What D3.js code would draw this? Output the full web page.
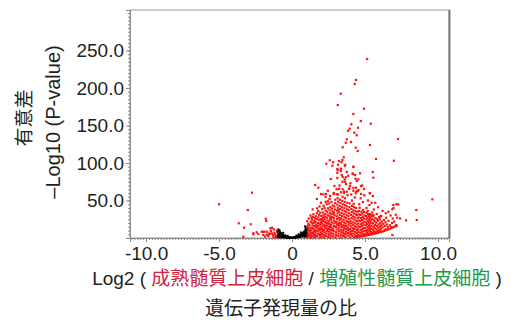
<!DOCTYPE html>
<html><head><meta charset="utf-8">
<script src="https://cdn.jsdelivr.net/npm/d3@7/dist/d3.min.js"></script>
<style>html,body{margin:0;padding:0;background:#fff;}svg{display:block;}</style>
</head><body>
<svg id="chart" width="520" height="328"></svg>
<script>
// ---- data ----
const xTicks = [-10, -5, 0, 5, 10];
const xTickLabels = ["-10.0", "-5.0", "0", "5.0", "10.0"];
const yTicks = [50, 100, 150, 200, 250];
const yTickLabels = ["50.0", "100.0", "150.0", "200.0", "250.0"];

// not significant (black)
const blackPoints = [
[-1.0,7.5],[-0.98,4],[-0.96,1.5],[-0.95,9],[-0.92,6],[-0.9,3],[-0.88,0.8],[-0.85,5.5],[-0.82,7.8],[-0.8,2.2],
[-0.78,4.5],[-0.75,1],[-0.72,6.5],[-0.7,3.4],[-0.68,0.5],[-0.65,5],[-0.62,2.5],[-0.6,4],[-0.58,1.2],[-0.55,3],
[-0.52,0.7],[-0.5,2.2],[-0.47,3.6],[-0.45,1.5],[-0.42,0.6],[-0.4,2.5],[-0.37,1.2],[-0.35,0.4],[-0.32,1.8],[-0.3,0.8],
[-0.27,1.3],[-0.25,0.3],[-0.22,1],[-0.2,0.5],[-0.17,0.8],[-0.15,0.2],[-0.12,0.6],[-0.1,0.3],[-0.07,0.5],[-0.05,0.2],
[-0.02,0.4],[0,0.2],[0.03,0.4],[0.05,0.2],[0.08,0.6],[0.1,0.3],[0.13,0.8],[0.15,0.4],[0.18,1],[0.2,0.5],
[0.23,1.3],[0.25,0.7],[0.28,1.6],[0.3,0.9],[0.33,2],[0.35,1.2],[0.38,2.5],[0.4,0.8],[0.42,3],[0.45,1.5],
[0.47,3.6],[0.5,2.2],[0.52,4.2],[0.55,1.4],[0.57,3.2],[0.6,5],[0.62,2.4],[0.65,4.4],[0.67,6],[0.7,1.8],
[0.72,3.8],[0.74,5.6],[0.76,7.4],[0.78,2.8],[0.8,4.8],[0.82,6.8],[0.84,9],[0.86,1.5],[0.87,3.8],[0.88,6],
[0.9,8.2],[0.91,11],[0.92,14],[0.93,2.5],[0.94,5],[0.95,7.5],[0.96,10],[0.97,12.5],[0.98,3.5],[0.99,6.5],
[0.6,7.5],[0.45,5],[0.3,3.5],[-0.3,3],[-0.6,7],[-0.85,10],[-0.93,11.5],[0.89,15.5]
];

// down-regulated, significant (red, left side)
const redLeft = [
[-2.74,60.4],[-5.0,45],[-3.03,37.3],[-1.8,25.7],[-1.76,22.7],[-3.65,19.6],[-2.83,18.3],[-3.29,13.7],[-1.49,12.9],[-1.37,13.7],
[-2.65,6.3],[-2.31,5.3],[-2.08,8.4],[-1.9,8.4],[-3.34,1.7],[-1.73,4.4],[-1.51,5.3],[-1.97,8],[-2.65,4.9],[-2.42,7.6],
[-1.97,4],[-1.73,8.4],[-1.62,2.7],[-1.39,6.3],[-1.28,1.7],[-1.16,4.9],[-1.1,2.5],[-1.2,7],[-1.05,10],[-1.3,3.8],
[-1.45,9.5],[-1.25,11.5],[-1.6,6],[-1.85,2],[-1.05,1],[-1.15,0.5]
];

// up-regulated, significant (red, right side)
const redRight = [
// x 1.0 - 1.5
[1.02,0.8],[1.05,3.5],[1.08,6.1],[1.03,9.4],[1.1,12.2],[1.06,15.8],[1.12,19],[1.15,1.9],[1.18,4.7],[1.2,8.3],
[1.22,11],[1.25,14.1],[1.19,17.5],[1.28,21.6],[1.3,0.6],[1.33,3],[1.35,6.8],[1.31,10.1],[1.38,13.3],[1.4,16.9],
[1.36,24.5],[1.42,28],[1.45,2.2],[1.47,5.4],[1.5,9],[1.44,12.5],[1.48,19.8],[1.52,23],[1.46,31.5],[1.41,38.2],
[1.04,22.5],[1.14,26],[1.26,30],[1.09,13.6],[1.16,10.2],[1.27,5.6],[1.37,20.4],[1.43,7.3],[1.21,2.6],[1.34,27],
// x 1.5 - 2.0
[1.55,1],[1.58,4],[1.6,7.5],[1.57,11.2],[1.62,14.6],[1.65,18],[1.6,21.5],[1.68,25.3],[1.63,29],[1.7,33],
[1.72,2.6],[1.75,6],[1.78,9.7],[1.74,13],[1.8,16.4],[1.77,20.2],[1.83,24],[1.8,27.5],[1.85,31],[1.79,36],
[1.88,42],[1.9,0.7],[1.92,3.8],[1.95,7.1],[1.91,10.5],[1.97,14],[1.94,17.7],[1.99,21],[1.96,25],[2.0,29.3],
[1.93,33.8],[1.98,47],[1.7,52],[1.58,70.7],[1.8,67],[1.99,58.7],[1.66,9.3],[1.86,12.5],[1.53,16],[1.71,39.5],
[1.64,2.3],[1.84,5],[1.56,26.7],[1.89,19.2],[1.69,16.1],
// x 2.0 - 2.5
[2.03,2],[2.05,5.3],[2.08,8.6],[2.04,12],[2.1,15.5],[2.07,19],[2.12,22.6],[2.09,26],[2.14,30],[2.11,34],
[2.06,38.5],[2.16,43],[2.18,0.9],[2.2,4.2],[2.22,7.6],[2.19,11],[2.25,14.3],[2.21,17.9],[2.27,21.3],[2.24,24.8],
[2.29,28.4],[2.26,32],[2.3,36.5],[2.23,40],[2.32,2.8],[2.35,6.2],[2.38,9.5],[2.33,13],[2.4,16.6],[2.36,20],
[2.42,23.5],[2.39,27.2],[2.44,31],[2.41,35],[2.46,39.6],[2.37,45],[2.48,1.4],[2.5,5],[2.45,49],[2.3,55],
[2.15,58],[2.33,58.7],[2.35,99],[2.13,10.2],[2.28,16.4],[2.43,12.1],[2.02,24.1],[2.17,27.3],[2.47,19.5],[2.31,48.2],
// x 2.5 - 3.0
[2.52,8.4],[2.55,11.8],[2.51,15.2],[2.57,18.7],[2.54,22.1],[2.59,25.6],[2.56,29.2],[2.6,33],[2.58,37],[2.62,41],
[2.55,46],[2.64,0.6],[2.66,3.5],[2.68,7],[2.65,10.4],[2.7,13.9],[2.67,17.3],[2.72,20.8],[2.69,24.3],[2.74,27.9],
[2.71,31.6],[2.76,35.4],[2.73,39.3],[2.78,43.4],[2.7,48],[2.8,2.1],[2.82,5.6],[2.85,9],[2.81,12.4],[2.87,16],
[2.84,19.4],[2.89,23],[2.86,26.5],[2.91,30.2],[2.88,34],[2.93,38],[2.9,42],[2.95,46.3],[2.97,1],[2.99,4.4],
[2.96,51],[2.6,56],[2.85,60],[2.45,63],[2.65,78.7],[2.9,69.3],[2.86,58.7],[2.58,103.6],[2.81,101],[2.76,96.4],
[2.53,4.5],[2.61,14.8],[2.77,10.5],[2.94,15.2],[2.63,27.5],[2.83,32.2],[2.98,20.5],[2.57,52],
// x 3.0 - 3.5
[3.02,7.8],[3.05,11.3],[3.01,14.7],[3.07,18.2],[3.04,21.7],[3.09,25.3],[3.06,29],[3.11,32.7],[3.08,36.5],[3.13,40.4],
[3.1,44.4],[3.15,48.5],[3.12,53],[3.17,2.5],[3.19,6],[3.21,9.5],[3.18,13],[3.23,16.5],[3.2,20],[3.25,23.5],
[3.22,27.1],[3.27,30.8],[3.24,34.6],[3.29,38.5],[3.26,42.5],[3.31,46.6],[3.28,51],[3.33,0.8],[3.35,4.3],[3.37,7.7],
[3.34,11.2],[3.39,14.8],[3.36,18.3],[3.41,21.9],[3.38,25.6],[3.43,29.3],[3.4,33.1],[3.45,37],[3.42,41],[3.47,45],
[3.44,49.5],[3.49,2.8],[3.5,6.3],[3.46,55],[3.15,58],[3.35,61],[3.05,65],[3.25,70],[3.45,75],[3.1,80],
[3.4,84],[3.22,65.3],[3.47,65],[3.06,58.3],[3.36,92.4],[3.13,90.7],[3.34,89.3],[3.1,87],[3.47,81.3],[3.22,102.7],
[3.45,104],[3.38,101],[3.15,97.7],[3.1,92],[3.34,92],[3.47,121],[3.34,192.4],[3.13,177.3],[3.03,3.6],[3.14,17.4],
[3.3,19.6],[3.44,15.6],[3.16,37.2],[3.32,26.3],[3.48,10.2],
// x 3.5 - 4.0
[3.52,9.8],[3.55,13.4],[3.51,17],[3.57,20.6],[3.54,24.3],[3.59,28],[3.56,31.8],[3.61,35.7],[3.58,39.7],[3.63,43.8],
[3.6,48],[3.65,1.5],[3.67,5],[3.69,8.5],[3.66,12],[3.71,15.6],[3.68,19.2],[3.73,22.8],[3.7,26.5],[3.75,30.3],
[3.72,34.2],[3.77,38.2],[3.74,42.3],[3.79,47],[3.81,3.2],[3.83,6.8],[3.85,10.4],[3.82,14],[3.87,17.7],[3.84,21.4],
[3.89,25.2],[3.86,29],[3.91,33],[3.88,37],[3.93,41.2],[3.95,0.9],[3.97,4.6],[3.99,8.2],[3.96,12],[3.94,46],
[3.62,53],[3.8,57],[3.55,62],[3.9,66],[3.7,72],[3.6,78],[3.85,83],[3.75,88],[3.56,60],[3.75,61.7],
[3.97,69.3],[3.92,65.3],[3.68,81],[3.63,75],[3.54,107.6],[3.65,97.7],[3.61,96],[3.75,131.6],[3.68,127],[3.95,145.7],
[3.84,143],[3.53,2.3],[3.64,16.2],[3.78,11.6],[3.92,20.3],[3.58,5.8],
// x 4.0 - 4.5
[4.02,15.6],[4.05,19.3],[4.01,23],[4.07,26.8],[4.04,30.7],[4.09,34.6],[4.06,38.6],[4.11,42.8],[4.13,2.4],[4.15,6],
[4.17,9.7],[4.14,13.4],[4.19,17.1],[4.16,20.9],[4.21,24.8],[4.18,28.7],[4.23,32.7],[4.2,36.8],[4.25,41],[4.22,45.5],
[4.27,1],[4.29,4.5],[4.31,8.2],[4.28,11.9],[4.33,15.7],[4.3,19.5],[4.35,23.4],[4.32,27.4],[4.37,31.5],[4.34,35.7],
[4.39,40],[4.41,3],[4.43,6.8],[4.45,10.6],[4.42,14.4],[4.47,18.3],[4.44,22.3],[4.49,26.4],[4.46,30.6],[4.48,35],
[4.1,50],[4.3,54],[4.05,58],[4.4,62],[4.2,67],[4.0,73],[4.35,79],[4.15,86],[4.2,63],[4.36,59.6],
[4.38,67],[4.16,85.3],[4.32,84],[4.43,76],[4.2,94.7],[4.2,95],[4.36,120.4],[4.04,128],[4.06,151.6],[4.27,140.4],
[4.43,137],[4.2,165.3],[4.38,210.7],[4.29,205.3],[4.03,5.2],[4.24,12.6],[4.08,9.5],
// x 4.5 - 5.0
[4.52,4],[4.55,7.8],[4.51,11.6],[4.57,15.4],[4.54,19.3],[4.59,23.3],[4.56,27.4],[4.61,31.6],[4.58,35.9],[4.63,40.3],
[4.65,3.2],[4.67,6.9],[4.69,10.7],[4.66,14.5],[4.71,18.4],[4.68,22.4],[4.73,26.5],[4.7,30.7],[4.75,35],[4.77,4.5],
[4.79,8.3],[4.81,12.1],[4.78,16],[4.83,20],[4.8,24.1],[4.85,28.3],[4.82,32.6],[4.87,37],[4.89,5.8],[4.91,9.6],
[4.93,13.5],[4.9,17.5],[4.95,21.6],[4.92,25.8],[4.97,30.1],[4.94,34.5],[4.6,45],[4.85,48],[4.7,53],[4.95,57],
[4.55,64],[4.8,70],[4.5,62.7],[4.73,58.7],[4.73,69.3],[4.93,65.3],[4.66,86.3],[4.54,78.3],[4.5,116],[4.52,147],
[4.71,156],[4.93,172.4],
// x 5.0 - 5.5
[5.02,5.5],[5.05,9.2],[5.01,13],[5.07,16.9],[5.04,20.9],[5.09,25],[5.06,29.2],[5.11,33.5],[5.13,7],[5.15,10.8],
[5.17,14.7],[5.14,18.7],[5.19,22.8],[5.16,27],[5.21,31.3],[5.18,36],[5.23,8.5],[5.25,12.4],[5.27,16.4],[5.24,20.5],
[5.29,24.7],[5.26,29],[5.31,5.5],[5.33,10],[5.35,14],[5.32,18.2],[5.37,22.5],[5.34,27],[5.39,31.5],[5.41,8],
[5.43,12],[5.45,16.2],[5.42,20.5],[5.47,25],[5.44,29.5],[5.49,34],[5.1,40],[5.3,44],[5.2,50],[5.45,47],
[5.32,60],[5.34,59.6],[5.27,32],[5.34,124],[5.39,152.4],[5.14,238.7],
// x 5.5 - 6.5
[5.52,7],[5.55,11],[5.58,15.2],[5.54,19.5],[5.6,24],[5.57,28.6],[5.63,9],[5.66,13.2],[5.69,17.5],[5.65,22],
[5.72,26.6],[5.75,7.5],[5.78,11.6],[5.81,16],[5.77,20.5],[5.84,25],[5.8,32],[5.87,9.5],[5.9,13.8],[5.93,18.2],
[5.89,23],[5.96,28],[5.99,11],[6.02,15.5],[6.05,20],[6.01,25],[6.08,12.5],[6.12,17],[6.15,22],[6.11,29],
[6.2,14],[6.25,19],[6.3,24],[6.35,16],[6.4,21],[6.45,27],[6.5,18],[5.6,38],[5.9,41],[6.2,36],
[5.7,47],[5.53,56],[5.53,88],[5.57,80.4],[5.57,30.7],[6.08,29.3],[5.75,105.3],[6.42,33],
// x 6.5 - 10
[6.55,14.5],[6.6,23],[6.7,17],[6.75,30],[6.85,20],[6.9,26],[7.0,22],[7.1,31],[7.2,27],[6.95,40],
[7.15,45],[6.6,35],[7.4,26],[6.97,103],[7.26,132],[7.28,44.7],[6.94,44],[6.87,38.3],[7.81,23.6],[8.54,24],
[8.51,37.3],[9.61,51.6],[7.12,17],[6.87,4],
// lower edge band
[4.4,1.3],[4.5,1.6],[4.6,1.9],[4.7,2.2],[4.8,2.5],[4.9,2.8],[5.0,3.1],[5.1,3.5],[5.2,3.9],[5.3,4.3],
[5.4,4.7],[5.5,5.1],[5.6,5.6],[5.7,6.1],[5.8,6.6],[5.9,7.1],[6.0,7.7],[6.1,8.3],[6.2,8.9],[6.3,9.5],
[6.4,10.2],[6.5,10.9],[6.6,11.6],[6.7,12.4],[6.8,13.2],[6.9,14],[7.0,14.9],[7.1,15.8],[7.17,16.5],
[4.8,3.4],[5.2,5],[5.6,6.8],[6.0,9],[6.4,11.6],[6.8,14.6],[4.45,2.5],[5.05,4.2],[5.45,6.2],[5.85,8.2]
];

// ---- chart ----
const svg = d3.select("#chart");
const L = 130, R = 449, T = 10, B = 238;
const x = d3.scaleLinear().domain([-11.1, 10.75]).range([L, R]);
const y = d3.scaleLinear().domain([0, 304]).range([B, T]);
const axisCol = "#8a8a8a";
const txtCol = "#231f20";

// frame
svg.append("rect").attr("x", L).attr("y", T).attr("width", R - L).attr("height", B - T)
  .attr("fill", "none").attr("stroke", "#9a9a9a").attr("stroke-width", 1);
svg.append("line").attr("x1", R + 0.5).attr("x2", R + 0.5).attr("y1", T).attr("y2", B)
  .attr("stroke", "#7a7a7a").attr("stroke-width", 2);

// axes with minor ticks
const xMinor = d3.range(-11, 10.75, 0.2);
const yMinor = d3.range(0, 304, 5);
const gx = svg.append("g").attr("transform", `translate(0,${B})`);
gx.call(d3.axisBottom(x).tickValues(xMinor).tickSize(2).tickFormat(""));
const gx2 = svg.append("g").attr("transform", `translate(0,${B})`);
gx2.call(d3.axisBottom(x).tickValues(xTicks).tickSize(4).tickPadding(4)
  .tickFormat((d, i) => xTickLabels[i]));
const gy = svg.append("g").attr("transform", `translate(${L},0)`);
gy.call(d3.axisLeft(y).tickValues(yMinor).tickSize(2).tickFormat(""));
const gy2 = svg.append("g").attr("transform", `translate(${L},0)`);
gy2.call(d3.axisLeft(y).tickValues(yTicks).tickSize(4).tickPadding(2)
  .tickFormat((d, i) => yTickLabels[i]));
svg.selectAll(".domain").attr("stroke", axisCol);
svg.selectAll(".tick line").attr("stroke", axisCol);
svg.selectAll(".tick text").attr("fill", txtCol)
  .style("font-family", "'Liberation Sans', Arial, sans-serif").style("font-size", "19px");
gx2.selectAll(".tick text").attr("dy", "0.72em");

// points
const plot = svg.append("g");
function drawPts(data, col, s) {
  plot.selectAll(null).data(data).enter().append("rect")
    .attr("x", d => x(d[0]) - s / 2).attr("y", d => y(d[1]) - s / 2)
    .attr("width", s).attr("height", s).attr("fill", col);
}
drawPts(redLeft, "#ff1010", 2.2);
drawPts(redRight, "#ff1010", 2.2);
drawPts(blackPoints, "#000000", 1.9);

// axis titles
const font = "'Noto Sans CJK JP', 'Liberation Sans', sans-serif";
const latin = "'Liberation Sans', Arial, sans-serif";
const xt = svg.append("text").attr("x", 297).attr("y", 285).attr("text-anchor", "middle")
  .style("font-family", font).style("font-size", "19px").attr("fill", txtCol);
xt.append("tspan").style("font-family", latin).text("Log2 ( ");
xt.append("tspan").attr("fill", "#d2233c").text("成熟髄質上皮細胞");
xt.append("tspan").style("font-family", latin).text(" / ");
xt.append("tspan").attr("fill", "#1a9a4a").text("増殖性髄質上皮細胞");
xt.append("tspan").style("font-family", latin).text(" )");

svg.append("text").attr("x", 281).attr("y", 315).attr("text-anchor", "middle")
  .style("font-family", font).style("font-size", "19px").attr("fill", txtCol).text("遺伝子発現量の比");

svg.append("text").attr("transform", "translate(60,122) rotate(-90)").attr("text-anchor", "middle")
  .style("font-family", latin).style("font-size", "20px")
  .attr("fill", txtCol).text("\u2013Log10 (P-value)");
svg.append("text").attr("transform", "translate(31,118) rotate(-90)").attr("text-anchor", "middle")
  .style("font-family", font).style("font-size", "19px").attr("fill", txtCol).text("有意差");
</script>
</body></html>
